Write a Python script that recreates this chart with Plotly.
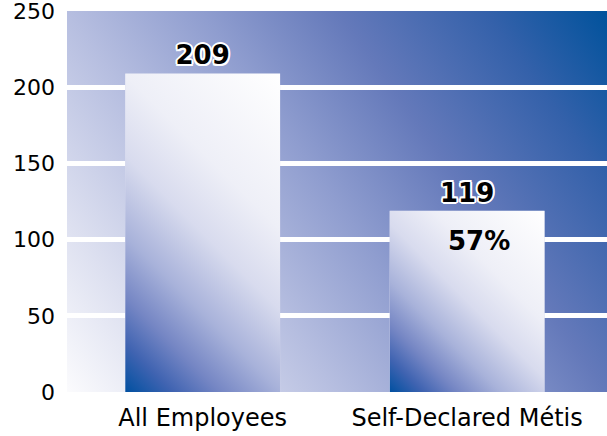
import base64
import plotly.graph_objects as go

# ---- data ----
categories = ["All Employees", "Self-Declared Métis"]
counts = [209, 119]
count_labels = ["209", "119"]
share_label = "57%"
y_tick_vals = [0, 50, 100, 150, 200, 250]

# ---- layout constants ----
W, H = 607, 436
M = dict(l=67, r=0, t=11, b=44)
PLOT_W = W - M["l"] - M["r"]
PLOT_H = H - M["t"] - M["b"]
Y_MAX = 250
X_RANGE = [-0.513, 1.529]
BAR_W = 0.586
FONT = "'DejaVu Sans', 'Noto Sans', sans-serif"

BG_STOPS = [(0, "#fbfbfd"), (0.15, "#dde0f0"), (0.333, "#b6bee0"), (0.5, "#8f9dcf"),
            (0.667, "#6479ba"), (0.85, "#3461aa"), (1, "#00529c")]
BAR_STOPS = [(0, "#0050a0"), (0.1, "#3f63b1"), (0.2, "#7586c4"), (0.33, "#a8b2da"),
             (0.5, "#d8dbee"), (0.67, "#eeeff7"), (1, "#ffffff")]


def gradient_uri(w, h, stops, x1, y1, x2, y2):
    stop_xml = "".join(f'<stop offset="{o}" stop-color="{c}"/>' for o, c in stops)
    svg = (f'<svg xmlns="http://www.w3.org/2000/svg" width="{w:.1f}" height="{h:.1f}" '
           f'viewBox="0 0 {w:.1f} {h:.1f}" preserveAspectRatio="none"><defs>'
           f'<linearGradient id="g" gradientUnits="userSpaceOnUse" x1="{x1:.1f}" y1="{y1:.1f}" '
           f'x2="{x2:.1f}" y2="{y2:.1f}">{stop_xml}</linearGradient></defs>'
           f'<rect x="0" y="0" width="{w:.1f}" height="{h:.1f}" fill="url(#g)"/></svg>')
    return "data:image/svg+xml;base64," + base64.b64encode(svg.encode("utf-8")).decode()


x_pos = list(range(len(categories)))

outline = ", ".join(f"{dx}px {dy}px 0 #ffffff" for dx, dy in
                    [(-2, 0), (2, 0), (0, -2), (0, 2), (-1.5, -1.5), (1.5, -1.5), (-1.5, 1.5), (1.5, 1.5)])

fig = go.Figure()
fig.add_trace(go.Bar(
    x=x_pos, y=counts, width=BAR_W,
    marker=dict(color="#d8dbee", line=dict(width=0)),
    text=count_labels, textposition="outside", cliponaxis=False,
    textfont=dict(family=FONT, size=26, color="#000000", weight="bold", shadow=outline),
    hoverinfo="skip",
))

images = [dict(
    source=gradient_uri(PLOT_W, PLOT_H, BG_STOPS, 0, PLOT_H, PLOT_W, 0),
    xref="paper", yref="paper", x=0, y=1, sizex=1, sizey=1,
    xanchor="left", yanchor="top", sizing="stretch", layer="below")]

bw_px = BAR_W * PLOT_W / (X_RANGE[1] - X_RANGE[0])
for xi, v in zip(x_pos, counts):
    bh_px = v * PLOT_H / Y_MAX
    half = (bw_px + bh_px) / 2
    images.append(dict(
        source=gradient_uri(bw_px, bh_px, BAR_STOPS, 0, bh_px, half, bh_px - half),
        xref="x", yref="y", x=xi - BAR_W / 2, y=v, sizex=BAR_W, sizey=v,
        xanchor="left", yanchor="top", sizing="stretch", layer="above"))

fig.update_layout(
    width=W, height=H, margin=M,
    paper_bgcolor="#ffffff", plot_bgcolor="rgba(0,0,0,0)",
    showlegend=False,
    images=images,
    font=dict(family=FONT, color="#000000"),
    annotations=[dict(
        x=x_pos[1], y=counts[1], xref="x", yref="y", text=share_label,
        showarrow=False, yanchor="top", xanchor="center", xshift=12, yshift=-13,
        font=dict(family=FONT, size=26, color="#000000", weight="bold"))],
)
fig.update_xaxes(
    range=X_RANGE, tickvals=x_pos, ticktext=categories,
    showgrid=False, zeroline=False, showline=False, ticks="",
    tickfont=dict(family=FONT, size=24, color="#000000"), ticklabelstandoff=9,
    ticklabeloverflow="allow",
)
fig.update_yaxes(
    range=[0, Y_MAX], tickvals=y_tick_vals, showgrid=True, gridcolor="#ffffff", gridwidth=5,
    zeroline=False, showline=False, ticks="",
    tickfont=dict(family=FONT, size=22, color="#000000"), ticklabelstandoff=11,
    ticklabeloverflow="allow",
)

fig.write_html("out.html", config={"displayModeBar": False},
               post_script="document.body.style.margin='0px';")
